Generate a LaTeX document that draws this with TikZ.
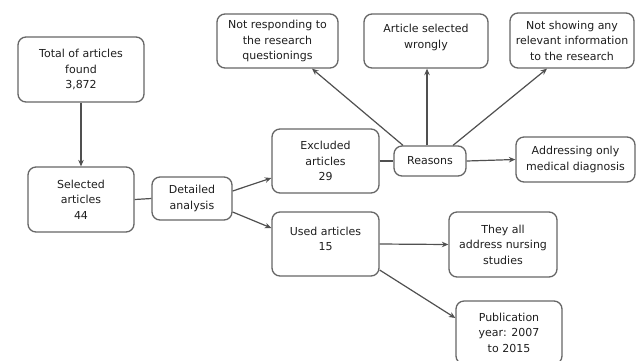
\documentclass[tikz,border=0pt]{standalone}
\usepackage{fontspec}
\setmainfont{DejaVu Sans}
\usetikzlibrary{arrows.meta,calc}
\definecolor{bordc}{HTML}{666666}
\definecolor{linec}{HTML}{505050}
\definecolor{txtc}{HTML}{1E1E1E}
\tikzset{
  box/.style={draw=bordc, line width=1.3pt, rounded corners=8pt, align=center,
    text=txtc, font=\fontsize{11}{15.5}\selectfont, inner sep=0pt},
  conn/.style={draw=linec, line width=1.2pt},
  arr/.style={conn, -{Stealth[length=6.5pt,width=5.5pt]}},
  txt/.style={align=center, text=txtc, font=\fontsize{11}{15.5}\selectfont, inner sep=0pt}
}
\begin{document}
\begin{tikzpicture}[x=1pt,y=-1pt]
\clip (0,0) rectangle (636,360);
\fill[white] (0,0) rectangle (636,360);
\node[box, minimum width=126pt, minimum height=65pt] (total) at (81,69.5) {Total of articles\\found\\3,872};
\node[box, minimum width=106pt, minimum height=65pt] (sel) at (81,199.5) {Selected\\articles\\44};
\node[box, minimum width=80pt, minimum height=43pt] (det) at (192,198.5) {Detailed\\analysis};
\node[box, minimum width=107pt, minimum height=64pt] (exc) at (325.5,161) {Excluded\\articles\\29};
\node[box, minimum width=107pt, minimum height=64pt] (used) at (325.5,244) {};
\node[txt] (usedtxt) at (325.5,239) {Used articles\\15};
\node[box, minimum width=72pt, minimum height=30pt] (reas) at (430,161) {Reasons};
\node[box, minimum width=121pt, minimum height=54pt] (nr) at (277.5,41) {Not responding to\\the research\\questionings};
\node[box, minimum width=124pt, minimum height=54pt] (as) at (426,41) {};
\node[txt] (astxt) at (426,37.5) {Article selected\\wrongly};
\node[box, minimum width=124pt, minimum height=55pt] (ns) at (572,40.5) {Not showing any\\relevant information\\to the research};
\node[box, minimum width=119pt, minimum height=45pt] (ad) at (575.5,159.5) {Addressing only\\medical diagnosis};
\node[box, minimum width=108pt, minimum height=65pt] (they) at (503,244.5) {They all\\address nursing\\studies};
\node[box, minimum width=106pt, minimum height=63pt] (pub) at (509,332.5) {Publication\\year: 2007\\to 2015};

\draw[arr] (total.south) -- (sel.north);
\draw[conn] (sel.east) -- (det.west);
\draw[arr] ([yshift=7.5pt]det.east) -- ([yshift=-17pt]exc.west);
\draw[arr] ([yshift=-13.5pt]det.east) -- ([yshift=16pt]used.west);
\draw[conn] (exc.east) -- (reas.west);
\draw[arr] ([xshift=-27pt]reas.north) -- ([xshift=34.5pt]nr.south);
\draw[arr] ([xshift=-3pt]reas.north) -- ([xshift=1pt]as.south);
\draw[arr] ([xshift=23pt]reas.north) -- ([xshift=-25pt]ns.south);
\draw[arr] (reas.east) -- (ad.west);
\draw[arr] (used.east) -- (they.west);
\draw[arr] ([yshift=-26pt]used.east) -- ([yshift=14.5pt]pub.west);
\end{tikzpicture}
\end{document}
